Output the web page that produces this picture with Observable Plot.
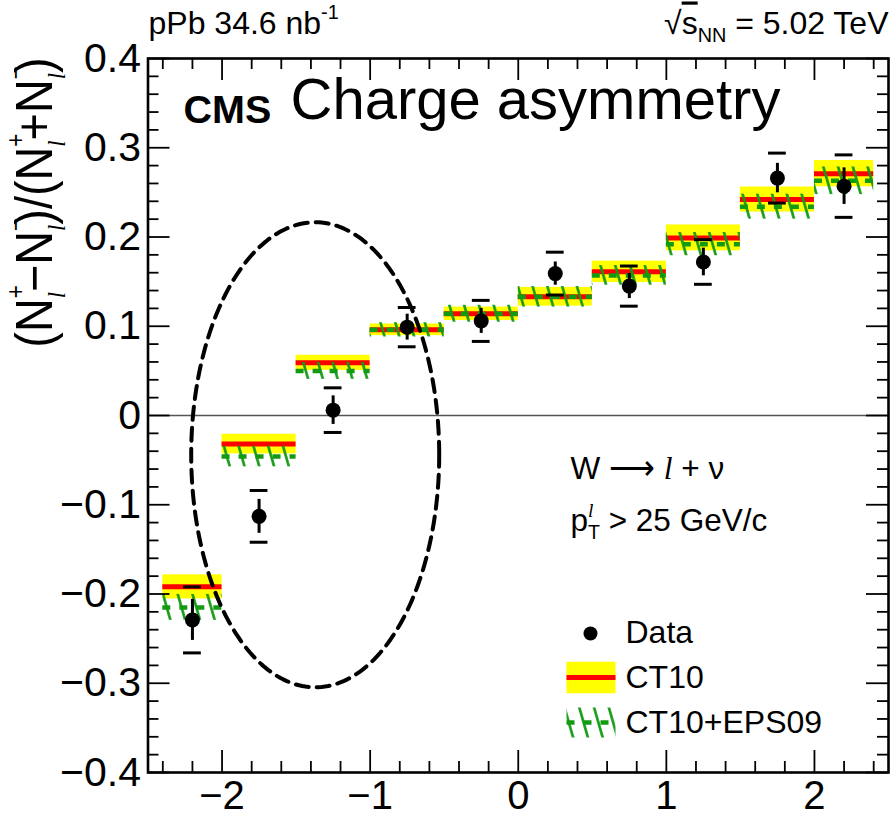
<!DOCTYPE html>
<html>
<head>
<meta charset="utf-8">
<script src="https://cdn.jsdelivr.net/npm/d3@7"></script>
<script src="https://cdn.jsdelivr.net/npm/@observablehq/plot@0.6"></script>
<style>
  body { margin: 0; background: #fff; }
  #chart { position: relative; width: 890px; height: 817px; }
  #chart svg { display: block; }
</style>
</head>
<body>
<div id="chart"></div>
<script>
// Lepton pseudorapidity bins (lab frame)
const etaLow    = [-2.4, -2.0, -1.5, -1.0, -0.5, 0.0, 0.5, 1.0, 1.5, 2.0];
const etaHigh   = [-2.0, -1.5, -1.0, -0.5, 0.0, 0.5, 1.0, 1.5, 2.0, 2.4];
const etaCenter = [-2.2, -1.75, -1.25, -0.75, -0.25, 0.25, 0.75, 1.25, 1.75, 2.2];

// Measured charge asymmetry with statistical and total uncertainties
const asymmetry  = [-0.229, -0.113, 0.006, 0.099, 0.106, 0.159, 0.145, 0.172, 0.266, 0.257];
const statError  = [0.023, 0.019, 0.016, 0.0145, 0.014, 0.013, 0.014, 0.0155, 0.0165, 0.0205];
const totalError = [0.037, 0.029, 0.025, 0.022, 0.023, 0.024, 0.0225, 0.025, 0.028, 0.035];

// CT10 prediction and its PDF uncertainty
const ct10      = [-0.192, -0.032, 0.059, 0.096, 0.114, 0.133, 0.161, 0.199, 0.242, 0.271];
const ct10Error = [0.0135, 0.011, 0.0085, 0.0065, 0.0075, 0.0105, 0.012, 0.0145, 0.014, 0.0147];

// CT10+EPS09 prediction and its uncertainty
const eps09      = [-0.215, -0.046, 0.050, 0.096, 0.114, 0.133, 0.157, 0.192, 0.234, 0.263];
const eps09Error = [0.0145, 0.0115, 0.0095, 0.008, 0.0095, 0.0115, 0.011, 0.013, 0.014, 0.0155];

// Axis ticks and labels
const xMajor = [-2, -1, 0, 1, 2];
const xTickLabels = ["\u22122", "\u22121", "0", "1", "2"];
const yMajor = [-0.4, -0.3, -0.2, -0.1, 0, 0.1, 0.2, 0.3, 0.4];
const yTickLabels = ["\u22120.4", "\u22120.3", "\u22120.2", "\u22120.1", "0", "0.1", "0.2", "0.3", "0.4"];
const xMinor = d3.range(-24, 25, 2).map(i => i / 10).filter(v => !xMajor.includes(v));
const yMinor = d3.range(-19, 20).map(i => i / 50).filter(v => Math.abs(v * 10 - Math.round(v * 10)) > 1e-6);

// Legend entries
const legendLabels = ["Data", "CT10", "CT10+EPS09"];

const bins = etaLow.map((lo, i) => ({
  lo, hi: etaHigh[i], eta: etaCenter[i],
  a: asymmetry[i], stat: statError[i], tot: totalError[i],
  ct: ct10[i], ctErr: ct10Error[i],
  eps: eps09[i], epsErr: eps09Error[i]
}));

// Frame geometry
const W = 890, H = 817;
const mL = 147.5, mR = 2, mT = 58, mB = 45;
const innerW = W - mL - mR, innerH = H - mT - mB;
const majorLen = 22, minorLen = 11;
const xDomain = [-2.5, 2.5], yDomain = [-0.4, 0.4];

// Dashed ellipse around the backward bins: centre in data units,
// semi-axes in pixels
const ellipseCenter = [-1.371, -0.044];
const ellipseRadii = [124, 232.5];
const kx = innerW / (xDomain[1] - xDomain[0]);
const ky = innerH / (yDomain[1] - yDomain[0]);
const ellipse = d3.range(0, 241).map(i => {
  const t = (i / 240) * 2 * Math.PI;
  return {
    x: ellipseCenter[0] + ellipseRadii[0] * Math.cos(t) / kx,
    y: ellipseCenter[1] + ellipseRadii[1] * Math.sin(t) / ky
  };
});

const FONT = "'Liberation Sans', Arial, Helvetica, sans-serif";
const GREEN = "#139a13";
const capHalf = 0.06;

// Rectangular / line glyphs for the legend swatches
const rectSymbol = (w, h) => ({draw(ctx) { ctx.rect(-w / 2, -h / 2, w, h); }});
const lineSymbol = (w) => ({draw(ctx) { ctx.moveTo(-w / 2, 0); ctx.lineTo(w / 2, 0); }});

// place a mark at an absolute pixel position of the SVG
const at = (px, py) => ({frameAnchor: "top-left", dx: px - mL, dy: py - mT});

const plot = Plot.plot({
  width: W, height: H,
  marginLeft: mL, marginRight: mR, marginTop: mT, marginBottom: mB,
  x: {domain: xDomain, axis: null},
  y: {domain: yDomain, axis: null},
  style: {fontFamily: FONT, background: "white", color: "black", overflow: "visible"},
  marks: [
    // CT10 band and central value
    Plot.rect(bins, {x1: "lo", x2: "hi", y1: d => d.ct - d.ctErr, y2: d => d.ct + d.ctErr, fill: "#ffff00"}),
    Plot.ruleY(bins, {x1: "lo", x2: "hi", y: "ct", stroke: "#ff0000", strokeWidth: 5}),
    // CT10+EPS09 hatched band and dashed central value
    Plot.rect(bins, {x1: "lo", x2: "hi", y1: d => d.eps - d.epsErr, y2: d => d.eps + d.epsErr, fill: "url(#eps09-hatch)"}),
    Plot.ruleY(bins, {x1: "lo", x2: "hi", y: "eps", stroke: GREEN, strokeWidth: 4.5, strokeDasharray: "8,9"}),
    // zero line
    Plot.ruleY([0], {stroke: "#555", strokeWidth: 1.3}),
    // highlight ellipse
    Plot.line(ellipse, {x: "x", y: "y", stroke: "black", strokeWidth: 4, strokeDasharray: "13,8"}),
    // data: statistical bars, total-uncertainty caps, markers
    Plot.ruleX(bins, {x: "eta", y1: d => d.a - d.stat, y2: d => d.a + d.stat, stroke: "black", strokeWidth: 3}),
    Plot.ruleY(bins, {x1: d => d.eta - capHalf, x2: d => d.eta + capHalf, y: d => d.a + d.tot, stroke: "black", strokeWidth: 3}),
    Plot.ruleY(bins, {x1: d => d.eta - capHalf, x2: d => d.eta + capHalf, y: d => d.a - d.tot, stroke: "black", strokeWidth: 3}),
    Plot.dot(bins, {x: "eta", y: "a", r: 7.5, fill: "black"}),

    // inward ticks on all four sides
    Plot.tickX(xMajor, {x: d => d, insetTop: innerH - majorLen, stroke: "black", strokeWidth: 1.8}),
    Plot.tickX(xMinor, {x: d => d, insetTop: innerH - minorLen, stroke: "black", strokeWidth: 1.8}),
    Plot.tickX(xMajor, {x: d => d, insetBottom: innerH - majorLen, stroke: "black", strokeWidth: 1.8}),
    Plot.tickX(xMinor, {x: d => d, insetBottom: innerH - minorLen, stroke: "black", strokeWidth: 1.8}),
    Plot.tickY(yMajor, {y: d => d, insetRight: innerW - majorLen, stroke: "black", strokeWidth: 1.8}),
    Plot.tickY(yMinor, {y: d => d, insetRight: innerW - minorLen, stroke: "black", strokeWidth: 1.8}),
    Plot.tickY(yMajor, {y: d => d, insetLeft: innerW - majorLen, stroke: "black", strokeWidth: 1.8}),
    Plot.tickY(yMinor, {y: d => d, insetLeft: innerW - minorLen, stroke: "black", strokeWidth: 1.8}),
    Plot.frame({stroke: "black", strokeWidth: 2.6}),

    // tick labels
    Plot.text(xMajor, {x: d => d, text: (d, i) => xTickLabels[i], frameAnchor: "bottom", lineAnchor: "bottom", dy: 36, fontSize: 40}),
    Plot.text(yMajor, {y: d => d, text: (d, i) => yTickLabels[i], frameAnchor: "left", textAnchor: "end", lineAnchor: "middle", dx: -7, fontSize: 41}),

    // axis title (rotated; condensed along the text direction below)
    Plot.text(["(N^{+}_{#it{l}}\u2212N^{\u2212}_{#it{l}})/(N^{+}_{#it{l}}+N^{\u2212}_{#it{l}})"],
      {text: d => d, ...at(51, 57), rotate: -90, textAnchor: "end", lineAnchor: "bottom", fontSize: 52}),

    // header texts
    Plot.text(["pPb 34.6 nb^{-1}"], {text: d => d, ...at(148, 33), textAnchor: "start", lineAnchor: "bottom", fontSize: 32}),
    Plot.text(["\u221A#ol{s}_{NN} = 5.02 TeV"], {text: d => d, ...at(888, 33), textAnchor: "end", lineAnchor: "bottom", fontSize: 32}),
    Plot.text(["CMS"], {text: d => d, ...at(183, 122), textAnchor: "start", lineAnchor: "bottom", fontSize: 39.5, fontWeight: "bold"}),
    Plot.text(["Charge asymmetry"], {text: d => d, ...at(290, 118), textAnchor: "start", lineAnchor: "bottom", fontSize: 58}),
    Plot.text(["W \u27F6 #it{l} + \u03BD"], {text: d => d, ...at(570, 478), textAnchor: "start", lineAnchor: "bottom", fontSize: 31.5}),
    Plot.text(["p^{#it{l}}_{T} > 25 GeV/c"], {text: d => d, ...at(570, 530), textAnchor: "start", lineAnchor: "bottom", fontSize: 31.5}),

    // legend
    Plot.dot([0], {...at(590, 633), r: 7, fill: "black"}),
    Plot.dot([0], {...at(590.5, 677), symbol: rectSymbol(49, 31.5), fill: "#ffff00"}),
    Plot.dot([0], {...at(590.5, 677), symbol: lineSymbol(49), fill: "none", stroke: "#ff0000", strokeWidth: 5}),
    Plot.dot([0], {...at(590.5, 722), symbol: rectSymbol(49, 30), fill: "url(#eps09-hatch)"}),
    Plot.dot([0], {...at(590.5, 722), symbol: lineSymbol(49), fill: "none", stroke: GREEN, strokeWidth: 4.5, strokeDasharray: "8,9"}),
    Plot.text(legendLabels, {text: d => d, frameAnchor: "top-left", textAnchor: "start", lineAnchor: "bottom", fontSize: 32}),
  ]
});

document.getElementById("chart").append(plot);

// Hatch pattern used by the CT10+EPS09 band
const svgNS = "http://www.w3.org/2000/svg";
const defs = document.createElementNS(svgNS, "defs");
defs.innerHTML = `<pattern id="eps09-hatch" patternUnits="userSpaceOnUse" width="14.2" height="14.2" patternTransform="rotate(-16)">
  <line x1="7.1" y1="-1" x2="7.1" y2="15.2" stroke="${GREEN}" stroke-width="2.6"/></pattern>`;
plot.insertBefore(defs, plot.firstChild);

// Legend labels: one row each, at its baseline
(function placeLegend() {
  const baselines = [642.7, 687, 732.7];
  [...plot.querySelectorAll("text")]
    .filter(t => legendLabels.includes(t.textContent))
    .forEach(t => t.setAttribute("transform", `translate(625,${baselines[legendLabels.indexOf(t.textContent)]})`));
})();

// Minimal markup for super/subscripts, italics and overlines: ^{..} _{..} #it{..} #ol{..}
function matchBrace(s, open) {
  let depth = 0;
  for (let j = open; j < s.length; j++) {
    if (s[j] === "{") depth++;
    else if (s[j] === "}" && --depth === 0) return j;
  }
  return s.length;
}
function parseMarkup(s, flags, out) {
  let i = 0, buf = "";
  const flush = () => { if (buf) out.push({text: buf, ...flags}); buf = ""; };
  while (i < s.length) {
    if ((s[i] === "^" || s[i] === "_") && s[i + 1] === "{") {
      const end = matchBrace(s, i + 1);
      flush();
      parseMarkup(s.slice(i + 2, end), {...flags, shift: s[i] === "^" ? "sup" : "sub"}, out);
      i = end + 1;
    } else if (s.startsWith("#it{", i) || s.startsWith("#ol{", i)) {
      const end = matchBrace(s, i + 3);
      flush();
      const key = s.slice(i + 1, i + 3) === "it" ? "italic" : "overline";
      parseMarkup(s.slice(i + 4, end), {...flags, [key]: true}, out);
      i = end + 1;
    } else {
      buf += s[i++];
    }
  }
  flush();
  return out;
}
plot.querySelectorAll("text").forEach(el => {
  const raw = el.textContent;
  if (!/[\^_]\{|#it\{|#ol\{/.test(raw)) return;
  const rotated = (el.getAttribute("transform") || "").includes("rotate(-90)");
  // the axis title uses smaller, higher scripts and condensed lettering
  const scriptSize = rotated ? 0.48 : 0.62;
  const supShift = rotated ? -0.53 : -0.44;
  const subShift = rotated ? 0.25 : 0.26;
  if (rotated) el.setAttribute("transform", el.getAttribute("transform") + " scale(0.9,1)");
  const segs = parseMarkup(raw, {shift: "none"}, []);
  const F = parseFloat(getComputedStyle(el).fontSize);
  el.textContent = "";
  let cur = 0, prev = null;
  for (const s of segs) {
    const ts = document.createElementNS(svgNS, "tspan");
    ts.textContent = s.text;
    const target = s.shift === "sup" ? supShift * F : s.shift === "sub" ? subShift * F : 0;
    if (target !== cur) ts.setAttribute("dy", target - cur);
    cur = target;
    if (s.shift !== "none") ts.setAttribute("font-size", scriptSize * F);
    if (s.italic) {
      ts.setAttribute("font-style", "italic");
      ts.setAttribute("font-family", "'Liberation Serif', 'DejaVu Serif', serif");
    }
    if (s.overline) ts.setAttribute("text-decoration", "overline");
    el.appendChild(ts);
    if (prev && prev.shift === "sup" && s.shift === "sub") ts.setAttribute("dx", -prev.node.getComputedTextLength());
    prev = {shift: s.shift, node: ts};
  }
});
</script>
</body>
</html>
